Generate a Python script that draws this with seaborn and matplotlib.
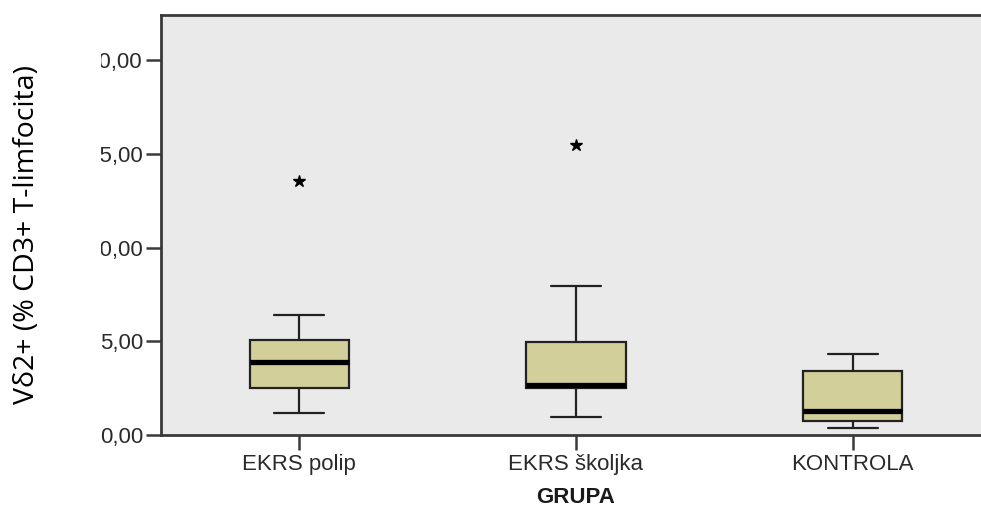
import numpy as np
import pandas as pd
import seaborn as sns
import matplotlib.pyplot as plt
from matplotlib.transforms import Bbox, TransformedBbox

# ---- data (summary values) ----
groups = ["EKRS polip", "EKRS školjka", "KONTROLA"]
whisker_low = [1.17, 0.96, 0.39]
q1 = [2.49, 2.49, 0.75]
median = [3.87, 2.67, 1.30]
q3 = [5.07, 4.98, 3.41]
whisker_high = [6.40, 7.96, 4.30]
outliers = [13.55, 15.47, None]

y_ticks = [0, 5, 10, 15, 20]
y_tick_labels = ["0,00", "5,00", "10,00", "15,00", "20,00"]
x_label = "GRUPA"
y_label = "Vδ2+ (% CD3+ T-limfocita)"

# build small per-group samples whose quartiles equal the values read above
rows = []
for g, lo, a, m, b, hi, out in zip(groups, whisker_low, q1, median, q3, whisker_high, outliers):
    top = out if out is not None else hi
    vals = [lo, a, a, m, m, b, b, hi, top]
    rows += [{"GRUPA": g, "val": v} for v in vals]
df = pd.DataFrame(rows)

sns.set_theme(style="white")
plt.rcParams["font.family"] = ["Liberation Sans", "DejaVu Sans"]

W, H = 981, 508
fig = plt.figure(figsize=(W / 100, H / 100), dpi=100)
left, right, top, bottom = 161, 991, 15, 435
ax = fig.add_axes([left / W, 1 - bottom / H, (right - left) / W, (bottom - top) / H])
ax.set_facecolor("#EAEAEA")

sns.boxplot(
    data=df, x="GRUPA", y="val", order=groups, ax=ax,
    color="#D3CF9B", saturation=1, width=0.36,
    linecolor="#222222", linewidth=1.6,
    medianprops=dict(color="black", linewidth=3.8),
    flierprops=dict(marker="*", markersize=9, markerfacecolor="black",
                    markeredgecolor="black", linestyle="none"),
)

ax.set_ylim(0, 22.4)
ax.set_xlim(-0.5, 2.5)
ax.set_yticks(y_ticks)
ax.set_yticklabels(y_tick_labels)
ax.tick_params(axis="both", which="major", direction="out", length=11, width=1.8,
               color="#3A3A3A", labelsize=16, labelcolor="#2A2A2A", pad=2,
               left=True, bottom=True, right=False, top=False)
ax.tick_params(axis="x", length=11, pad=3)

for side in ["left", "bottom", "top"]:
    ax.spines[side].set_visible(True)
    ax.spines[side].set_color("#3A3A3A")
    ax.spines[side].set_linewidth(2.0)
ax.spines["right"].set_visible(False)

ax.set_xlabel(x_label, fontsize=16, fontweight="bold",
              family=["Liberation Sans Narrow", "Liberation Sans", "DejaVu Sans"],
              labelpad=8, color="#1A1A1A")
ax.set_ylabel("")
fig.text(27 / W, 1 - 234 / H, y_label, rotation=90, ha="center", va="center",
         fontsize=20.5, family=["Open Sans", "DejaVu Sans"], color="black")

fig.canvas.draw()
clip = TransformedBbox(Bbox([[101 / W, 0], [1, 1]]), fig.transFigure)
for lab in ax.get_yticklabels():
    lab.set_clip_on(True)
    lab.set_clip_box(clip)

fig.savefig("out.png", dpi=100)
